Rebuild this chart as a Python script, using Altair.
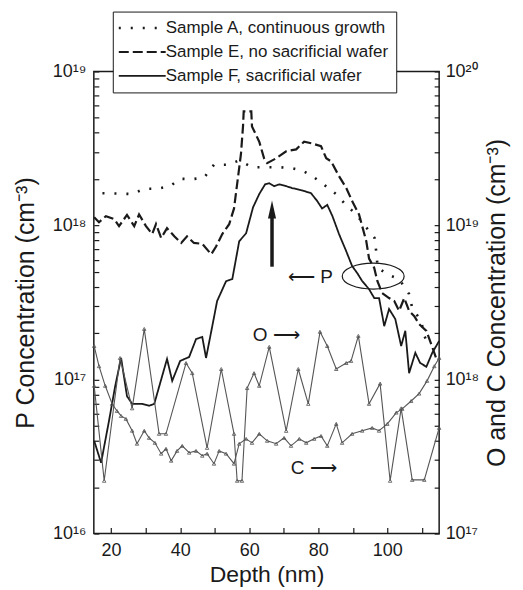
import altair as alt
import pandas as pd

FONT = "Liberation Sans"
INK = "#1a1a1a"

samples = ["Sample A, continuous growth", "Sample E, no sacrificial wafer", "Sample F, sacrificial wafer"]
species = ["O", "C"]

# Sample A (dotted), P concentration (cm^-3), left axis
a_depth = [17.5, 22.3, 26.1, 29.6, 33.3, 37.1, 40.0, 43.5, 46.9, 49.8, 53.6, 57.1, 60.8, 64.8, 68.4, 72.2,
           75.4, 78.3, 82.2, 85.3, 88.0, 91.0, 93.6, 96.3, 96.8, 97.2, 100.5, 103.4, 106.3, 107.2, 109.8,
           110.7, 112.1]
a_conc = [1.62e18, 1.61e18, 1.6e18, 1.73e18, 1.73e18, 1.8e18, 2.01e18, 2.0e18, 2.04e18, 2.48e18, 2.48e18,
          2.64e18, 2.39e18, 2.39e18, 2.39e18, 2.36e18, 2.27e18, 2.09e18, 1.8e18, 1.59e18, 1.36e18, 1.18e18,
          9.9e17, 8.3e17, 6.7e17, 5.3e17, 4.76e17, 4.49e17, 3.59e17, 2.91e17, 2.4e17, 1.92e17, 1.65e17]

# Sample E (dashed)
e_depth = [15.1, 16.5, 18.5, 20.9, 22.3, 24.6, 26.7, 28.1, 30.1, 31.9, 33.0, 34.5, 36.2, 38.3, 40.3, 42.0,
           44.0, 46.4, 49.0, 50.4, 52.2, 54.2, 55.6, 57.6, 58.2, 58.4, 60.6, 60.8, 62.9, 64.3, 65.2, 67.8,
           70.7, 73.6, 75.9, 78.2, 80.8, 82.3, 83.7, 86.0, 88.1, 89.8, 91.8, 93.9, 94.7, 96.2, 97.1, 98.5,
           100.5, 102.0, 103.4, 104.9, 106.3, 107.8, 109.2, 111.3, 112.7, 114.4]
e_conc = [1.13e18, 1.05e18, 1.15e18, 1.1e18, 9.9e17, 1.17e18, 9.9e17, 1.18e18, 9.9e17, 8.8e17, 1.02e18,
          8.3e17, 9.6e17, 8.5e17, 7.7e17, 8.5e17, 7.7e17, 7.6e17, 6.5e17, 7.3e17, 8.8e17, 1.02e18, 1.29e18,
          2.9e18, 4.4e18, 5.5e18, 5.5e18, 4.4e18, 3.5e18, 2.73e18, 2.54e18, 2.73e18, 3.03e18, 3.12e18,
          3.5e18, 3.41e18, 3.27e18, 2.73e18, 2.61e18, 2.09e18, 1.75e18, 1.44e18, 1.18e18, 7.9e17, 6.1e17,
          5.3e17, 4.36e17, 3.64e17, 3.38e17, 3.23e17, 2.79e17, 3.38e17, 2.79e17, 2.58e17, 2.29e17, 2.07e17,
          1.7e17, 1.32e17]

# Sample F (solid)
f_depth = [15.1, 17.1, 19.4, 21.2, 22.9, 24.6, 26.1, 29.0, 31.0, 32.5, 36.2, 37.7, 40.0, 42.6, 44.6, 46.4,
           47.5, 49.3, 50.7, 53.3, 55.1, 57.1, 59.1, 61.1, 62.9, 64.6, 65.8, 67.2, 68.7, 70.7, 72.4, 75.3,
           77.9, 79.7, 81.1, 82.6, 84.1, 86.0, 88.1, 89.8, 91.3, 92.7, 94.7, 96.2, 97.6, 99.1, 100.5, 102.3,
           104.0, 105.2, 106.3, 108.1, 109.5, 111.3, 113.0, 115.0]
f_conc = [4.0e16, 2.88e16, 5.4e16, 9.1e16, 1.38e17, 7.8e16, 6.95e16, 6.95e16, 6.75e16, 6.95e16, 1.36e17,
          9.8e16, 1.32e17, 1.4e17, 1.83e17, 1.89e17, 1.38e17, 2.22e17, 3.23e17, 4.35e17, 4.49e17, 7.9e17,
          8.9e17, 1.31e18, 1.6e18, 1.85e18, 1.88e18, 1.8e18, 1.85e18, 1.8e18, 1.75e18, 1.69e18, 1.62e18,
          1.44e18, 1.29e18, 1.36e18, 1.15e18, 8.8e17, 6.8e17, 5.45e17, 4.9e17, 4.36e17, 3.86e17, 3.38e17,
          3.38e17, 2.22e17, 2.87e17, 2.47e17, 1.65e17, 2.07e17, 1.1e17, 1.49e17, 1.28e17, 1.21e17, 1.49e17,
          1.78e17]

# O and C concentrations (cm^-3), right axis
o_depth = [15.1, 18.0, 22.6, 26.1, 29.6, 33.9, 35.9, 41.7, 43.5, 47.8, 51.9, 55.6, 56.5, 57.9, 59.4, 61.4,
           62.9, 65.8, 70.7, 74.2, 77.1, 80.5, 82.6, 85.2, 88.1, 89.5, 91.6, 94.7, 97.9, 100.8, 104.0, 107.2,
           110.7, 115.0]
o_conc = [9.1e17, 2.2e17, 1.38e18, 6.5e17, 2.13e18, 4.44e17, 4.44e17, 1.28e18, 1.1e18, 3.6e17, 1.17e18,
          4.44e17, 2.2e17, 2.2e17, 8.8e17, 1.1e18, 9.1e17, 1.63e18, 4.64e17, 1.17e18, 6.95e17, 2.04e18,
          1.65e18, 1.17e18, 1.28e18, 1.32e18, 1.92e18, 6.95e17, 9.4e17, 2.2e17, 6.5e17, 2.23e17, 2.23e17,
          4.85e17]

c_depth = [15.1, 16.5, 18.3, 20.3, 21.7, 22.9, 24.3, 26.1, 27.5, 29.6, 31.0, 32.7, 34.5, 35.9, 37.4, 39.1,
           40.6, 42.6, 44.6, 46.4, 47.8, 49.8, 51.3, 53.3, 55.6, 57.1, 59.1, 60.8, 62.9, 65.2, 67.8, 70.1,
           72.1, 74.5, 76.5, 78.8, 80.8, 82.6, 85.2, 86.9, 89.8, 92.7, 95.6, 97.6, 100.0, 102.6, 104.3,
           106.9, 109.2, 111.5, 113.6, 115.0]
c_conc = [1.65e18, 1.22e18, 9.1e17, 6.95e17, 6.25e17, 5.8e17, 5.55e17, 4.65e17, 3.83e17, 4.65e17, 4.18e17,
          3.88e17, 3.3e17, 3.55e17, 2.97e17, 3.44e17, 3.71e17, 3.35e17, 3.44e17, 3.2e17, 3.3e17, 2.84e17,
          3.44e17, 3.3e17, 2.84e17, 3.83e17, 4.12e17, 3.88e17, 4.44e17, 4.0e17, 3.83e17, 4.18e17, 3.71e17,
          4.12e17, 3.88e17, 4.12e17, 4.3e17, 3.71e17, 5.15e17, 3.88e17, 4.44e17, 4.65e17, 4.85e17, 4.65e17,
          5.15e17, 6.1e17, 6.45e17, 7.25e17, 8.1e17, 9.8e17, 1.22e18, 1.38e18]

# annotations (placed in data units of the left axis)
note_labels = ["\u27f5 P", "O \u27f6", "C \u27f6"]
note_depth = [71.2, 61.0, 72.0]
note_conc = [4.6e17, 1.95e17, 2.67e16]
arrow_depth = [66.6]
arrow_from = [5.4e17]
arrow_to = [1.15e18]
arrow_tip = [1.27e18]
ellipse_depth = [95.9]
ellipse_conc = [4.69e17]

for xs, ys in [(a_depth, a_conc), (e_depth, e_conc), (f_depth, f_conc), (o_depth, o_conc), (c_depth, c_conc)]:
    assert len(xs) == len(ys), (len(xs), len(ys))

rows = []
for name, ds, cs in zip(samples, [a_depth, e_depth, f_depth], [a_conc, e_conc, f_conc]):
    for i, (d, c) in enumerate(zip(ds, cs)):
        rows.append({"depth": d, "conc": c, "sample": name, "idx": i})
p_df = pd.DataFrame(rows)

rows = []
for name, ds, cs in zip(species, [o_depth, c_depth], [o_conc, c_conc]):
    for i, (d, c) in enumerate(zip(ds, cs)):
        rows.append({"depth": d, "conc": c, "species": name, "idx": i})
oc_df = pd.DataFrame(rows)

notes_df = pd.DataFrame({"depth": note_depth, "conc": note_conc, "label": note_labels})
arrow_df = pd.DataFrame({"depth": arrow_depth, "c0": arrow_from, "c1": arrow_to, "tip": arrow_tip})
ell_df = pd.DataFrame({"depth": ellipse_depth, "conc": ellipse_conc})

SUP = {"16": "10\u00b9\u2076", "17": "10\u00b9\u2077", "18": "10\u00b9\u2078", "19": "10\u00b9\u2079",
       "20": "10\u00b2\u2070"}


def decade_expr(exps):
    parts = []
    for e in exps:
        parts.append(f"abs(datum.value - 1e{e}) < 1e{e - 3} ? '{SUP[str(e)]}'")
    return " : ".join(parts) + " : ''"


left_vals = [float(k) * 10.0 ** e for e in (16, 17, 18) for k in range(1, 10)] + [1e19]
right_vals = [float(k) * 10.0 ** e for e in (17, 18, 19) for k in range(1, 10)] + [1e20]

x_scale = alt.Scale(domain=[15, 115], nice=False, zero=False)
x_axis = alt.Axis(values=list(range(20, 111, 10)),
                  labelExpr="datum.value % 20 == 0 ? datum.label : ''",
                  title="Depth (nm)", tickSize={"expr": "-6"}, labelPadding=14,
                  titleFontSize=23, labelFontSize=18, titlePadding=4, domain=False, grid=False,
                  labelOverlap=False, labelFlush=False)
yl_scale = alt.Scale(type="log", domain=[1e16, 1e19], nice=False)
yl_axis = alt.Axis(values=left_vals, labelExpr=decade_expr([16, 17, 18, 19]),
                   title="P Concentration (cm\u207b\u00b3)", tickSize={"expr": "-5"}, labelPadding=13,
                   titleFontSize=25, labelFontSize=18, titlePadding=14, domain=False, grid=False,
                   labelOverlap=False, labelFlush=False)
yr_scale = alt.Scale(type="log", domain=[1e17, 1e20], nice=False)
yr_axis = alt.Axis(values=right_vals, labelExpr=decade_expr([17, 18, 19, 20]), orient="right",
                   title="O and C Concentration (cm\u207b\u00b3)", tickSize={"expr": "-5"}, labelPadding=11,
                   titleFontSize=25, labelFontSize=18, titlePadding=6, titleAngle=270, titleBaseline="top",
                   domain=False, grid=False, labelOverlap=False, labelFlush=False)

X = alt.X("depth:Q", scale=x_scale, axis=x_axis)
YL = alt.Y("conc:Q", scale=yl_scale, axis=yl_axis)

p_lines = alt.Chart(p_df).mark_line(color=INK, strokeCap="butt").encode(
    x=X,
    y=YL,
    strokeDash=alt.StrokeDash(
        "sample:N",
        scale=alt.Scale(domain=samples, range=[[2, 10], [10, 4], [1, 0]]),
        legend=alt.Legend(orient="none", legendX=19, legendY=-60, title=None,
                          symbolType="M-4,0H4", symbolSize=138, symbolOffset=13, labelOffset=15,
                          symbolStrokeWidth=2, symbolStrokeColor=INK, labelFontSize=17, labelFont=FONT,
                          labelColor=INK, fillColor="white", strokeColor=INK, padding=8, rowPadding=6,
                          labelLimit=400),
    ),
    strokeWidth=alt.StrokeWidth("sample:N", scale=alt.Scale(domain=samples, range=[2.6, 1.8, 2.2]),
                                legend=None),
    order=alt.Order("idx:Q"),
)

arrow_shaft = alt.Chart(arrow_df).mark_rule(color=INK, strokeWidth=3.5).encode(
    x=X, y=alt.Y("c0:Q", scale=yl_scale, axis=yl_axis), y2="c1:Q")
arrow_head = alt.Chart(arrow_df).mark_point(shape="M0,-1L0.45,1L-0.45,1Z", size=324, filled=True,
                                             color=INK, opacity=1).encode(
    x=X, y=alt.Y("tip:Q", scale=yl_scale, axis=yl_axis))
ellipse = alt.Chart(ell_df).mark_point(shape="M-1,0A1,0.42,0,1,0,1,0A1,0.42,0,1,0,-1,0Z", size=3844,
                                        filled=False, color=INK, strokeWidth=1.2, opacity=1).encode(
    x=X, y=YL)
notes = alt.Chart(notes_df).mark_text(align="left", baseline="middle", fontSize=19, font=FONT,
                                      color=INK).encode(x=X, y=YL, text="label:N")

left = alt.layer(p_lines, arrow_shaft, arrow_head, ellipse, notes)

right = alt.Chart(oc_df).mark_line(
    color="#555555", strokeWidth=1.1,
    point=alt.OverlayMarkDef(shape="triangle-up", filled=False, size=12, strokeWidth=0.8, color="#555555"),
).encode(
    x=X,
    y=alt.Y("conc:Q", scale=yr_scale, axis=yr_axis),
    detail="species:N",
    order=alt.Order("idx:Q"),
)

chart = alt.layer(left, right).resolve_scale(y="independent").properties(
    width=346, height=463,
    padding={"left": 5, "top": 2, "right": 5, "bottom": 5},
    background="white",
).configure_view(stroke=INK, strokeWidth=1.5).configure_axis(
    labelFont=FONT, titleFont=FONT, labelColor=INK, titleColor=INK, tickColor=INK, tickWidth=1.2,
    titleFontWeight="normal",
)

chart.save("out.html", embed_options={"renderer": "svg", "actions": False})
